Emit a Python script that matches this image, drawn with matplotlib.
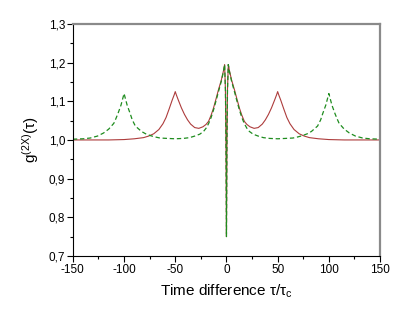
import matplotlib
matplotlib.use("Agg")
import matplotlib.pyplot as plt
from matplotlib.ticker import MultipleLocator, FuncFormatter

plt.rcParams['font.family'] = ['Liberation Sans', 'DejaVu Sans']
plt.rcParams['mathtext.fontset'] = 'custom'
plt.rcParams['mathtext.rm'] = 'Liberation Sans'
plt.rcParams['mathtext.it'] = 'Liberation Sans:italic'
plt.rcParams['axes.unicode_minus'] = False

# red curve: peaks at 0 and +-50
red_x = [-150, -130, -115, -100, -90, -81, -76, -71, -66, -62, -59, -56, -53, -51, -50,
         -49, -47, -44, -41, -38, -35, -31, -27, -23, -20, -17.5, -15, -12.7, -10, -8,
         -5, -3, -1.8, -1, -0.5, 0, 0.5, 1, 1.8, 3, 5, 8, 10, 12.7, 15, 17.5, 20, 23,
         27, 31, 35, 38, 41, 44, 47, 49, 50, 51, 53, 56, 59, 62, 66, 71, 76, 81, 90,
         100, 115, 130, 150]
red_y = [1.0, 1.0, 1.0, 1.001, 1.003, 1.006, 1.010, 1.016, 1.027, 1.042, 1.058, 1.080,
         1.103, 1.117, 1.125, 1.117, 1.103, 1.083, 1.066, 1.052, 1.041, 1.032, 1.030,
         1.034, 1.040, 1.048, 1.064, 1.082, 1.108, 1.128, 1.155, 1.178, 1.195, 1.13,
         1.0, 0.75, 1.0, 1.13, 1.195, 1.178, 1.155, 1.128, 1.108, 1.082, 1.064, 1.048,
         1.040, 1.034, 1.030, 1.032, 1.041, 1.052, 1.066, 1.083, 1.103, 1.117, 1.125,
         1.117, 1.103, 1.080, 1.058, 1.042, 1.027, 1.016, 1.010, 1.006, 1.003, 1.001,
         1.0, 1.0, 1.0]

# green dashed curve: peaks at 0 and +-100
green_x = [-150, -140, -133, -126, -120, -115, -110, -108, -106, -103, -101, -100, -99,
           -97, -94, -92, -89, -86, -83, -79, -74, -70, -65, -58, -50, -42, -36, -31,
           -26, -22.4, -20, -17.5, -15, -12.7, -10, -8, -5, -3, -1.8, -1, -0.5, 0, 0.5,
           1, 1.8, 3, 5, 8, 10, 12.7, 15, 17.5, 20, 22.4, 26, 31, 36, 42, 50, 58, 65,
           70, 74, 79, 83, 86, 89, 92, 94, 97, 99, 100, 101, 103, 106, 108, 110, 115,
           120, 126, 133, 140, 150]
green_y = [1.002, 1.003, 1.005, 1.010, 1.018, 1.028, 1.043, 1.055, 1.068, 1.090, 1.110,
           1.120, 1.110, 1.090, 1.068, 1.052, 1.036, 1.029, 1.022, 1.016, 1.011, 1.008,
           1.005, 1.004, 1.003, 1.004, 1.006, 1.010, 1.015, 1.022, 1.030, 1.042, 1.058,
           1.077, 1.103, 1.123, 1.152, 1.176, 1.195, 1.13, 1.0, 0.75, 1.0, 1.13,
           1.195, 1.176, 1.152, 1.123, 1.103, 1.077, 1.058, 1.042, 1.030, 1.022, 1.015,
           1.010, 1.006, 1.004, 1.003, 1.004, 1.005, 1.008, 1.011, 1.016, 1.022, 1.029,
           1.036, 1.052, 1.068, 1.090, 1.110, 1.120, 1.110, 1.090, 1.068, 1.055, 1.043,
           1.028, 1.018, 1.010, 1.005, 1.003, 1.002]

fig = plt.figure(figsize=(4.14, 3.11), dpi=100)
ax = fig.add_subplot(111)
fig.subplots_adjust(left=0.176, right=0.918, top=0.923, bottom=0.177)

ax.plot(red_x, red_y, color='#ad3c3c', lw=0.8)
ax.plot(green_x, green_y, color='#1e8c1e', lw=0.9, dashes=(3.5, 2.2))

ax.set_xlim(-150, 150)
ax.set_ylim(0.7, 1.3)
ax.xaxis.set_major_locator(MultipleLocator(50))
ax.xaxis.set_minor_locator(MultipleLocator(25))
ax.yaxis.set_major_locator(MultipleLocator(0.1))
ax.yaxis.set_minor_locator(MultipleLocator(0.05))
ax.yaxis.set_major_formatter(FuncFormatter(lambda v, p: f"{v:.1f}".replace('.', ',')))
ax.xaxis.set_major_formatter(FuncFormatter(lambda v, p: f"{v:.0f}"))

ax.tick_params(which='major', direction='out', length=4, width=0.8, labelsize=8.5,
               top=False, right=False, pad=1.5)
ax.tick_params(which='minor', direction='out', length=2.5, width=0.8,
               top=False, right=False)

for s in ['top', 'right']:
    ax.spines[s].set_color('#8a8a8a')
    ax.spines[s].set_linewidth(1.6)
for s in ['left', 'bottom']:
    ax.spines[s].set_linewidth(0.8)

ax.set_xlabel(r"Time difference τ/τ$_\mathrm{c}$", fontsize=11)
ax.set_ylabel(r"g$^{\mathrm{(2X)}}$(τ)", fontsize=11)
ax.xaxis.set_label_coords(0.5, -0.115)
ax.yaxis.set_label_coords(-0.105, 0.5)

fig.savefig("out.png", dpi=100)
